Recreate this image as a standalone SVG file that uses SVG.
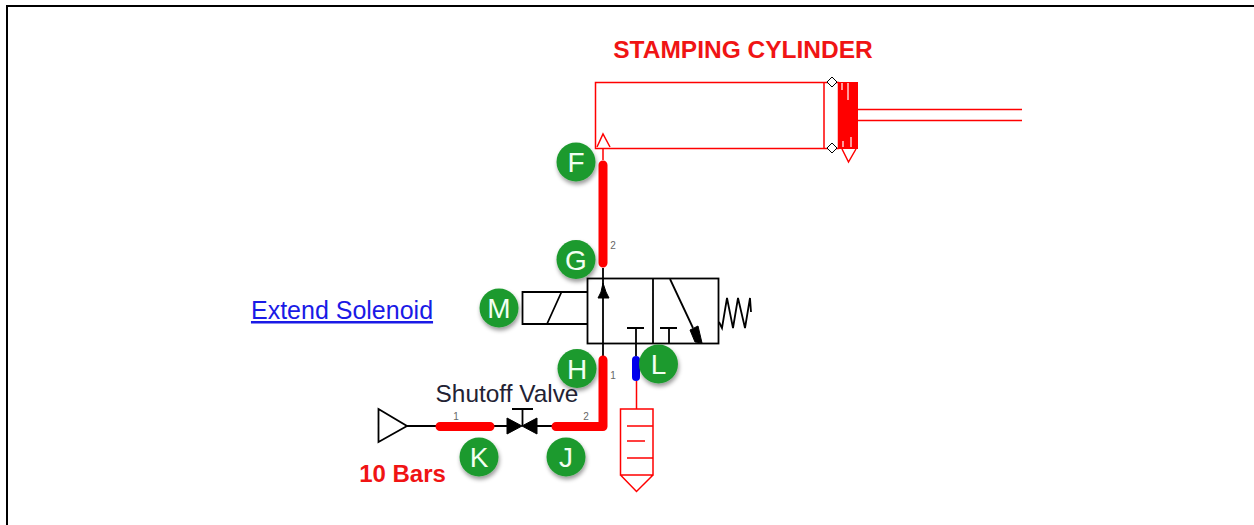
<svg xmlns="http://www.w3.org/2000/svg" width="1254" height="525" viewBox="0 0 1254 525">
<defs>
<filter id="sh" x="-30%" y="-30%" width="170%" height="170%"><feDropShadow dx="1" dy="3" stdDeviation="2" flood-color="#000" flood-opacity="0.4"/></filter>
</defs>
<style>
.r{fill:none;stroke:#f00;stroke-width:1.5}
.k{fill:none;stroke:#000;stroke-width:1.8}
.p{fill:none;stroke:#f00;stroke-width:9;stroke-linecap:round;stroke-linejoin:round}
.f{fill:#000;stroke:#000;stroke-width:1}
.b{fill:#1e9a2f;filter:url(#sh)}
.l{font:28px "Liberation Sans",Arial,sans-serif;fill:#f2fff2;text-anchor:middle}
.n{font:10px "Liberation Sans",Arial,sans-serif;fill:#666;text-anchor:middle}
text{font-family:"Liberation Sans",Arial,sans-serif}
</style>
<rect width="1254" height="525" fill="#fff"/>
<path d="M7 525V6H1254" fill="none" stroke="#000" stroke-width="2"/>
<g id="cylinder">
<rect class="r" x="595.500" y="82.500" width="243" height="66"/>
<path class="r" d="M824 82V148M858 109.500H1022M858 120.500H1022"/>
<rect x="839" y="82" width="19" height="67" fill="#f00"/>
<path d="M842 83V90M848 83V100M843 147V141M851 147V137" stroke="#ff9a9a" stroke-width="2" fill="none"/>
<path class="r" d="M842 149L848.500 162L856 149"/>
<path class="r" d="M597 147L603 134L610 147"/>
<path d="M832 77L837 82L832 87L827 82ZM832 143L837 148L832 153L827 148Z" fill="#fff" stroke="#000" stroke-width="1"/>
<text x="743" y="58" font-size="24.500" font-weight="bold" fill="#f01414" text-anchor="middle">STAMPING CYLINDER</text>
</g>
<g id="valve">
<rect class="k" x="587.500" y="278.500" width="131" height="65"/>
<path class="k" d="M653 278V343M587 292H522.500V324H587M547 324L561.500 292M603 278V343"/>
<path class="f" d="M603 283L606 292L609 298H598L601 292Z"/>
<path class="k" d="M670 279L693 328"/>
<path class="f" d="M690 330L698 326L702 343L695 342Z"/>
<path class="k" d="M627 328H644M636 328V343M660 328H677M669 328V343"/>
<path class="k" stroke-width="2.500" d="M719 322L722 328L727 298L733 328L738 298L745 328L750 298L751 312"/>
<text x="342" y="319" font-size="25" fill="#1a1ae6" text-anchor="middle" text-decoration="underline">Extend Solenoid</text>
</g>
<g id="source">
<path class="k" d="M378.500 409L407 426L378.500 442Z"/>
<text x="507" y="402" font-size="24.400" fill="#223" text-anchor="middle">Shutoff Valve</text>
<text x="402.500" y="482" font-size="24" font-weight="bold" fill="#f01414" text-anchor="middle">10 Bars</text>
</g>
<g id="shutoff">
<path class="f" d="M507 418L522 426L507 434ZM537 418L522 426L537 434Z"/>
<path class="k" d="M522.500 426V409M512 409H533"/>
</g>
<g id="exhaust">
<path class="r" d="M620.500 409H653V475H620.500ZM620.500 475L636.500 491.500L653 475M627 426H653M627 441H645M627 458H653"/>
</g>
<g id="connectors">
<path class="k" d="M603 268V278M603 343V356M407 426H436M494 426H507M537 426H552"/>
<path class="r" d="M603 148V160M636.500 381V409"/>
<path class="p" d="M603 165V263M603 360V426.500H556M440 426.500H490"/>
<path fill="none" stroke="#00e" stroke-width="8" stroke-linecap="round" d="M636 360V377"/>
<path class="k" d="M636 343V356"/>
<text class="n" x="613" y="249">2</text><text class="n" x="613" y="379">1</text><text class="n" x="456" y="420">1</text><text class="n" x="586" y="420">2</text>
</g>
<g id="F"><circle class="b" cx="576" cy="162" r="19.500"/><text class="l" x="576" y="172">F</text></g>
<g id="G"><circle class="b" cx="576" cy="259.500" r="19.500"/><text class="l" x="576" y="269.500">G</text></g>
<g id="M"><circle class="b" cx="499" cy="308" r="19.500"/><text class="l" x="499" y="318">M</text></g>
<g id="H"><circle class="b" cx="577" cy="368.500" r="19.500"/><text class="l" x="577" y="378.500">H</text></g>
<g id="L"><circle class="b" cx="658.500" cy="364" r="19.500"/><text class="l" x="658.500" y="374">L</text></g>
<g id="K"><circle class="b" cx="479" cy="457" r="19.500"/><text class="l" x="479" y="467">K</text></g>
<g id="J"><circle class="b" cx="566" cy="457" r="19.500"/><text class="l" x="566" y="467">J</text></g>
</svg>
